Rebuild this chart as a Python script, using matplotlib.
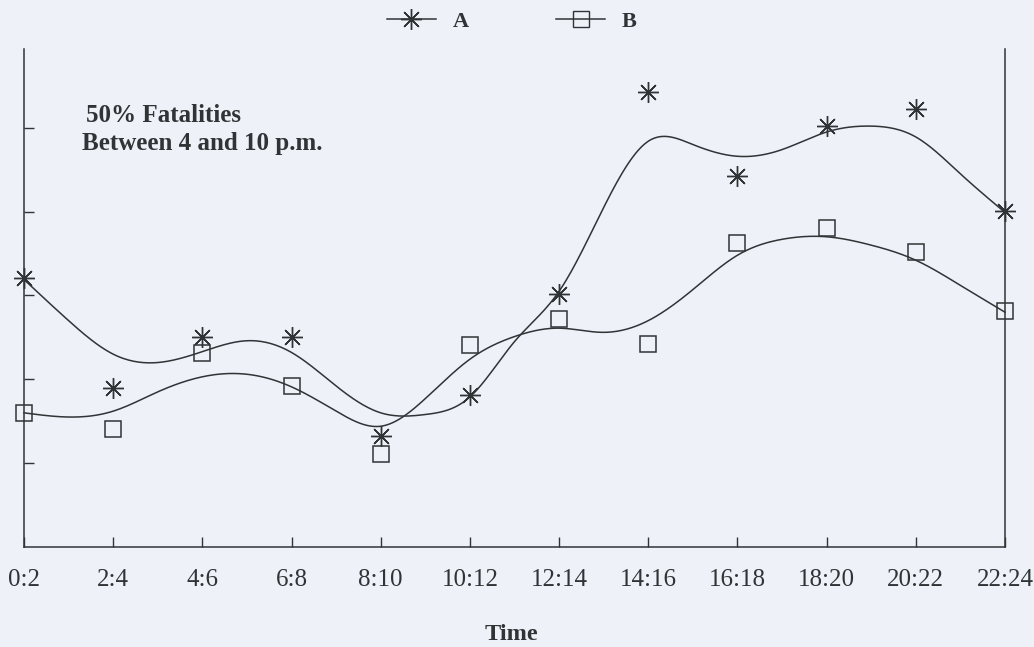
import numpy as np
import matplotlib
matplotlib.use("Agg")
import matplotlib.pyplot as plt

# --- data ---
time_labels = ["0:2", "2:4", "4:6", "6:8", "8:10", "10:12",
               "12:14", "14:16", "16:18", "18:20", "20:22", "22:24"]
series_a = [3.21, 1.90, 2.51, 2.51, 1.32, 1.81, 3.02, 5.43, 4.42, 5.02, 5.22, 4.01]
series_b = [1.60, 1.41, 2.31, 1.92, 1.11, 2.41, 2.72, 2.42, 3.63, 3.81, 3.52, 2.81]

# smoothed fit curves, read every half step (0, 0.5, ... 11)
fit_a = [3.19, 2.70, 2.30, 2.20, 2.33, 2.46, 2.32, 1.92, 1.60, 1.58, 1.79, 2.45,
         3.05, 4.05, 4.84, 4.80, 4.66, 4.74, 4.95, 5.02, 4.89, 4.45, 3.99]
fit_b = [1.60, 1.55, 1.62, 1.85, 2.03, 2.06, 1.91, 1.62, 1.44, 1.77, 2.24, 2.51,
         2.61, 2.56, 2.70, 3.07, 3.48, 3.67, 3.70, 3.60, 3.42, 3.12, 2.80]

note_lines = ["50% Fatalities", "Between 4 and 10 p.m."]


def natural_spline(xk, yk, xs):
    # plain natural cubic spline, only used to draw the fitted line smoothly
    xk = np.asarray(xk, float)
    yk = np.asarray(yk, float)
    n = len(xk)
    h = np.diff(xk)
    A = np.zeros((n, n))
    r = np.zeros(n)
    A[0, 0] = A[-1, -1] = 1
    for i in range(1, n - 1):
        A[i, i - 1] = h[i - 1]
        A[i, i] = 2 * (h[i - 1] + h[i])
        A[i, i + 1] = h[i]
        r[i] = 3 * ((yk[i + 1] - yk[i]) / h[i] - (yk[i] - yk[i - 1]) / h[i - 1])
    c = np.linalg.solve(A, r)
    b = (yk[1:] - yk[:-1]) / h - h * (2 * c[:-1] + c[1:]) / 3
    d = (c[1:] - c[:-1]) / (3 * h)
    idx = np.clip(np.searchsorted(xk, xs) - 1, 0, n - 2)
    dx = xs - xk[idx]
    return yk[idx] + b[idx] * dx + c[idx] * dx ** 2 + d[idx] * dx ** 3


plt.rcParams['font.family'] = ['Liberation Serif', 'DejaVu Serif']
ink = '#2f3436'
paper = '#eef2f8'

fig = plt.figure(figsize=(10.34, 6.47), dpi=100, facecolor=paper)
ax = fig.add_axes([0.0232, 0.1546, 0.9488, 0.7697], facecolor=paper)

x = np.arange(len(time_labels))
xk = np.arange(len(fit_a)) * 0.5
xs = np.linspace(0, len(time_labels) - 1, 600)

ax.plot(xs, natural_spline(xk, fit_a, xs), color=ink, lw=1.1, clip_on=False)
ax.plot(xs, natural_spline(xk, fit_b, xs), color=ink, lw=1.1, clip_on=False)

ax.plot(x, series_a, ls='none', marker=(8, 2, 0), ms=15, mew=1.0,
        mec=ink, clip_on=False)
ax.plot(x, series_b, ls='none', marker='s', ms=11, mew=1.1,
        mfc='none', mec=ink, clip_on=False)

ax.set_xlim(0, len(time_labels) - 1)
ax.set_ylim(0, 5.94)
ax.set_xticks(x)
ax.set_xticklabels(time_labels, fontsize=18, color=ink)
ax.set_yticks([1, 2, 3, 4, 5])
ax.set_yticklabels([])
ax.tick_params(axis='both', direction='in', length=7, width=1.0, color=ink)
ax.tick_params(axis='x', pad=16)
ax.spines['top'].set_visible(False)
for side in ['left', 'right', 'bottom']:
    ax.spines[side].set_color(ink)
    ax.spines[side].set_linewidth(1.1)

# legend handles
ha, = ax.plot([], [], color=ink, lw=1.1, marker=(8, 2, 0), ms=15, mec=ink)
hb, = ax.plot([], [], color=ink, lw=1.1, marker='s', ms=11, mfc='none', mec=ink)
fig.legend([ha, hb], ["A", "B"], loc='center', bbox_to_anchor=(0.495, 0.966),
           ncol=2, frameon=False, handlelength=2.2, handletextpad=0.75,
           columnspacing=3.95, prop={'weight': 'bold', 'size': 16},
           labelcolor=ink)

ax.text(0.063, 0.866, note_lines[0], transform=ax.transAxes, fontsize=18,
        fontweight='bold', color=ink, va='center')
ax.text(0.059, 0.81, note_lines[1], transform=ax.transAxes, fontsize=18,
        fontweight='bold', color=ink, va='center')

fig.text(0.495, 1 - 635 / 647, "Time", ha='center', va='center',
         fontsize=17.5, fontweight='bold', color=ink)

fig.savefig("out.png", dpi=100, facecolor=paper)
